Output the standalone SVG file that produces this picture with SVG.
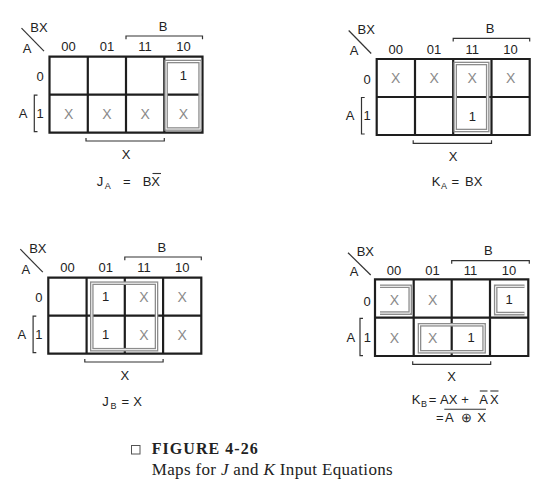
<svg xmlns="http://www.w3.org/2000/svg" width="550" height="486" viewBox="0 0 550 486">
<style>
text{font-family:"Liberation Sans",Arial,sans-serif;fill:#222}
.l{font-size:13px;text-anchor:middle}
.s{font-size:9px}
.x{font-size:14px;text-anchor:middle;fill:#8a8a8a}
.g{fill:none;stroke:#1e1e1e;stroke-width:2.2}
.b{fill:none;stroke:#333;stroke-width:1.2}
.go{fill:none;stroke:#8c8c8c;stroke-width:3.6}
.gi{fill:none;stroke:#fff;stroke-width:1}
.ov{stroke:#333;stroke-width:1.1}
.cap{font-family:"Liberation Serif","Times New Roman",serif;fill:#222}
</style>
<rect width="550" height="486" fill="#fff"/>

<g id="map-JA" transform="translate(49.5,56.7)">
  <path class="g" d="M0,0H153V76H0Z M38.3,0V76 M76.5,0V76 M114.8,0V76 M0,38H153"/>
  <line class="b" x1="-28" y1="-28.5" x2="-5.5" y2="-5.5"/>
  <text class="l" x="-10.5" y="-25">BX</text>
  <text class="l" x="-22.5" y="-4">A</text>
  <text class="l" x="19.1" y="-5.5">00</text>
  <text class="l" x="57.4" y="-5.5">01</text>
  <text class="l" x="95.6" y="-5.5">11</text>
  <text class="l" x="133.9" y="-5.5">10</text>
  <text class="l" x="113.5" y="-26">B</text>
  <path class="b" d="M76.5,-17.5V-20.7H153V-17.5"/>
  <text class="l" x="-9.5" y="24.5">0</text>
  <text class="l" x="-9.5" y="61">1</text>
  <text class="l" x="-26.5" y="61">A</text>
  <path class="b" d="M-12,38.5H-15.2V75H-12"/>
  <path class="b" d="M36.5,81.3V84.3H114.8V81.3"/>
  <text class="l" x="76.5" y="102">X</text>
  <text class="l" x="133.9" y="23.5">1</text>
  <text class="x" x="19.1" y="62">X</text>
  <text class="x" x="57.4" y="62">X</text>
  <text class="x" x="95.6" y="62">X</text>
  <text class="x" x="133.9" y="62">X</text>
  <rect class="go" x="116.6" y="4.8" width="34" height="67.5"/>
  <rect class="gi" x="116.6" y="4.8" width="34" height="67.5"/>
</g>
<g id="eq-JA">
  <text x="96.7" y="185.5" font-size="13">J</text>
  <text class="s" x="104.8" y="188.5">A</text>
  <text class="l" x="126.7" y="185.5">=</text>
  <text x="142.7" y="185.5" font-size="13">BX</text>
  <line class="ov" x1="152.5" y1="173.5" x2="161" y2="173.5"/>
</g>

<g id="map-KA" transform="translate(376.7,59)">
  <path class="g" d="M0,0H153V76H0Z M38.3,0V76 M76.5,0V76 M114.8,0V76 M0,38H153"/>
  <line class="b" x1="-28" y1="-28.5" x2="-5.5" y2="-5.5"/>
  <text class="l" x="-10.5" y="-25">BX</text>
  <text class="l" x="-22.5" y="-4">A</text>
  <text class="l" x="19.1" y="-5.5">00</text>
  <text class="l" x="57.4" y="-5.5">01</text>
  <text class="l" x="95.6" y="-5.5">11</text>
  <text class="l" x="133.9" y="-5.5">10</text>
  <text class="l" x="113.5" y="-26">B</text>
  <path class="b" d="M76.5,-17.5V-20.7H153V-17.5"/>
  <text class="l" x="-9.5" y="24.5">0</text>
  <text class="l" x="-9.5" y="61">1</text>
  <text class="l" x="-26.5" y="61">A</text>
  <path class="b" d="M-12,38.5H-15.2V75H-12"/>
  <path class="b" d="M36.5,81.3V84.3H114.8V81.3"/>
  <text class="l" x="76.5" y="102">X</text>
  <text class="x" x="19.1" y="24">X</text>
  <text class="x" x="57.4" y="24">X</text>
  <text class="x" x="95.6" y="24">X</text>
  <text class="x" x="133.9" y="24">X</text>
  <text class="l" x="95.6" y="61.5">1</text>
  <rect class="go" x="78.5" y="4.5" width="32.5" height="67"/>
  <rect class="gi" x="78.5" y="4.5" width="32.5" height="67"/>
</g>
<g id="eq-KA">
  <text x="431.7" y="185.5" font-size="13">K</text>
  <text class="s" x="441" y="188.5">A</text>
  <text class="l" x="455.3" y="185.5">=</text>
  <text x="465" y="185.5" font-size="13">BX</text>
</g>

<g id="map-JB" transform="translate(48.3,277.7)">
  <path class="g" d="M0,0H153V76H0Z M38.3,0V76 M76.5,0V76 M114.8,0V76 M0,38H153"/>
  <line class="b" x1="-28" y1="-28.5" x2="-5.5" y2="-5.5"/>
  <text class="l" x="-10.5" y="-25">BX</text>
  <text class="l" x="-22.5" y="-4">A</text>
  <text class="l" x="19.1" y="-5.5">00</text>
  <text class="l" x="57.4" y="-5.5">01</text>
  <text class="l" x="95.6" y="-5.5">11</text>
  <text class="l" x="133.9" y="-5.5">10</text>
  <text class="l" x="113.5" y="-26">B</text>
  <path class="b" d="M76.5,-17.5V-20.7H153V-17.5"/>
  <text class="l" x="-9.5" y="24.5">0</text>
  <text class="l" x="-9.5" y="61">1</text>
  <text class="l" x="-26.5" y="61">A</text>
  <path class="b" d="M-12,38.5H-15.2V75H-12"/>
  <path class="b" d="M36.5,81.3V84.3H114.8V81.3"/>
  <text class="l" x="76.5" y="102">X</text>
  <text class="l" x="57.4" y="23.5">1</text>
  <text class="x" x="95.6" y="24">X</text>
  <text class="x" x="133.9" y="24">X</text>
  <text class="l" x="57.4" y="61.5">1</text>
  <text class="x" x="95.6" y="62">X</text>
  <text class="x" x="133.9" y="62">X</text>
  <rect class="go" x="43.5" y="5.5" width="64.7" height="66.5"/>
  <rect class="gi" x="43.5" y="5.5" width="64.7" height="66.5"/>
</g>
<g id="eq-JB">
  <text x="102.3" y="405.5" font-size="13">J</text>
  <text class="s" x="110.5" y="408.5">B</text>
  <text class="l" x="125.3" y="405.5">=</text>
  <text x="133.3" y="405.5" font-size="13">X</text>
</g>

<g id="map-KB" transform="translate(375,279.3)">
  <path class="g" d="M0,0H153.3V76.7H0Z M38.7,0V76.7 M76.7,0V76.7 M115,0V76.7 M0,38.4H153.3"/>
  <line class="b" x1="-27" y1="-26.6" x2="-4.3" y2="-4.3"/>
  <text class="l" x="-9.7" y="-23">BX</text>
  <text class="l" x="-21" y="-3">A</text>
  <text class="l" x="19.1" y="-4">00</text>
  <text class="l" x="57.4" y="-4">01</text>
  <text class="l" x="95.6" y="-4">11</text>
  <text class="l" x="133.9" y="-4">10</text>
  <text class="l" x="113.3" y="-24.5">B</text>
  <path class="b" d="M76.7,-15.6V-18.6H154.3V-15.6"/>
  <text class="l" x="-8" y="26.3">0</text>
  <text class="l" x="-7.7" y="63">1</text>
  <text class="l" x="-24.3" y="62.5">A</text>
  <path class="b" d="M-12,39H-15V76.4H-12"/>
  <path class="b" d="M37.7,82V85H115.7V82"/>
  <text class="l" x="76.7" y="102">X</text>
  <text class="x" x="19.3" y="25.5">X</text>
  <text class="x" x="57.7" y="25.5">X</text>
  <text class="l" x="134" y="25">1</text>
  <text class="x" x="19.3" y="63.5">X</text>
  <text class="x" x="57.7" y="63.5">X</text>
  <text class="l" x="96" y="63">1</text>
  <path class="go" d="M5,7H35.2V33.8H5"/>
  <path class="gi" d="M5,7H35.2V33.8H5"/>
  <path class="go" d="M149.5,7H120.7V34.3H149.5"/>
  <path class="gi" d="M149.5,7H120.7V34.3H149.5"/>
  <rect class="go" x="44.5" y="45.5" width="64.6" height="27"/>
  <rect class="gi" x="44.5" y="45.5" width="64.6" height="27"/>
</g>
<g id="eq-KB">
  <text x="411.7" y="403.5" font-size="13">K</text>
  <text class="s" x="421" y="406.5">B</text>
  <text class="l" x="432.5" y="403.5">=</text>
  <text x="440" y="403.5" font-size="13">AX</text>
  <text class="l" x="465" y="403.5">+</text>
  <text x="479.3" y="403.5" font-size="13">A</text>
  <text x="490" y="403.5" font-size="13">X</text>
  <line class="ov" x1="479.8" y1="391" x2="487.5" y2="391"/>
  <line class="ov" x1="490.3" y1="391" x2="498.5" y2="391"/>
  <text class="l" x="439.7" y="421.7">=</text>
  <text x="445" y="421.7" font-size="13">A</text>
  <text class="l" x="466.7" y="421.7">⊕</text>
  <text x="477.3" y="421.7" font-size="13">X</text>
  <line class="ov" x1="444.3" y1="409.3" x2="486" y2="409.3"/>
</g>

<g id="caption">
  <rect x="131.5" y="445.5" width="8.5" height="8.5" fill="none" stroke="#555" stroke-width="1"/>
  <text class="cap" x="151.7" y="454.3" font-size="16" font-weight="bold" textLength="106" lengthAdjust="spacing">FIGURE 4-26</text>
  <text class="cap" x="151.7" y="474.5" font-size="17" textLength="241" lengthAdjust="spacing">Maps for <tspan font-style="italic">J</tspan> and <tspan font-style="italic">K</tspan> Input Equations</text>
</g>
</svg>
